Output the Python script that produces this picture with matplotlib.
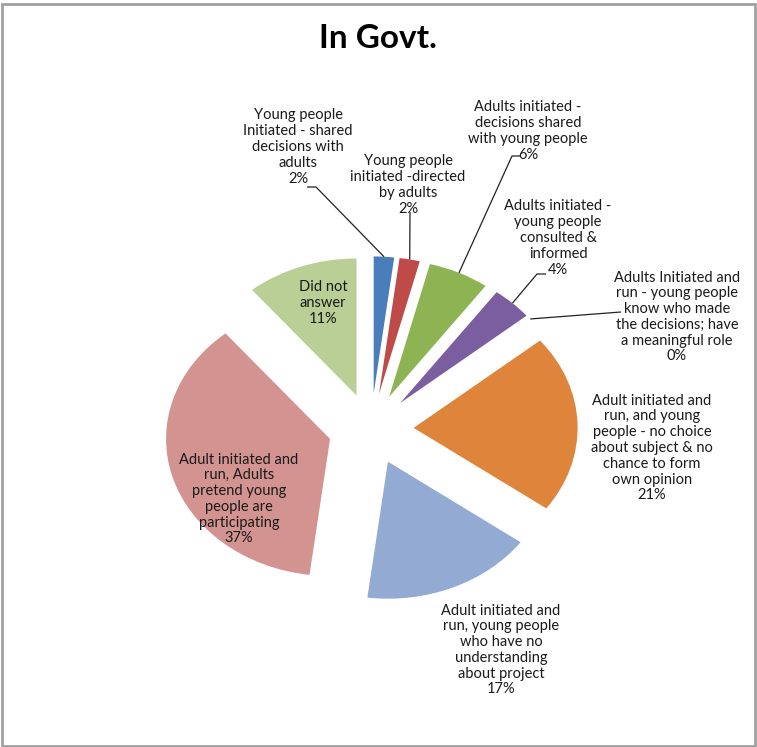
import numpy as np
import matplotlib
matplotlib.use("Agg")
import matplotlib.pyplot as plt
from matplotlib.patches import Rectangle

plt.rcParams['font.family'] = ['Lato', 'DejaVu Sans']

# Participation categories, clockwise from 12 o'clock
labels = [
    "Young people\nInitiated - shared\ndecisions with\nadults",
    "Young people\ninitiated -directed\nby adults",
    "Adults initiated -\ndecisions shared\nwith young people",
    "Adults initiated -\nyoung people\nconsulted &\ninformed",
    "Adults Initiated and\nrun - young people\nknow who made\nthe decisions; have\na meaningful role",
    "Adult initiated and\nrun, and young\npeople - no choice\nabout subject & no\nchance to form\nown opinion",
    "Adult initiated and\nrun, young people\nwho have no\nunderstanding\nabout project",
    "Adult initiated and\nrun, Adults\npretend young\npeople are\nparticipating",
    "Did not\nanswer",
]
percents = [2, 2, 6, 4, 0, 21, 17, 37, 11]
colors = ['#4A7EBB', '#BE4B48', '#8DB352', '#7B5E9F', '#4BACC6',
          '#DE853B', '#93AAD3', '#D39391', '#B9CF95']

W, H = 757, 747
CX, CY = 371, 429        # pie centre in pixels
SX, SY = 164, 137        # pixels per unit radius (chart is stretched wide)
EXPLODE = 0.26

fig = plt.figure(figsize=(W / 100, H / 100), dpi=100)
ax = fig.add_axes([0, 0, 1, 1])

wedges, _ = ax.pie(percents, colors=colors, startangle=90, counterclock=False,
                   explode=[EXPLODE] * len(percents), radius=1,
                   wedgeprops=dict(linewidth=0))
ax.set_aspect('auto')
ax.set_xlim(-CX / SX, (W - CX) / SX)
ax.set_ylim(-(H - CY) / SY, CY / SY)
ax.axis('off')


def px(x, y):
    # pixel position -> data coords
    return (x - CX) / SX, (CY - y) / SY


def outer_mid(i):
    w = wedges[i]
    a = np.deg2rad((w.theta1 + w.theta2) / 2)
    r = 1 + EXPLODE
    return r * np.cos(a), r * np.sin(a)


txt = dict(ha='center', va='center', fontsize=10.5, linespacing=1.16, color='#1a1a1a')

# label text centres (pixels)
label_pos = [(298, 147), (408, 185), (528, 131), (558, 238), (677, 317),
             (652, 448), (501, 650), (239, 499), (323, 303)]
for i, (lab, p) in enumerate(zip(labels, label_pos)):
    ax.text(*px(*p), f"{lab}\n{percents[i]}%", **txt)

# leader lines: (slice index, points from label side in pixels)
leaders = [
    (0, [(307, 187), (316, 187)]),
    (1, [(410, 212)]),
    (2, [(520, 156), (512, 156)]),
    (3, [(546, 274), (537, 274)]),
    (4, [(621, 312)]),
]
for i, pts in leaders:
    xs = [px(*q)[0] for q in pts] + [outer_mid(i)[0]]
    ys = [px(*q)[1] for q in pts] + [outer_mid(i)[1]]
    ax.plot(xs, ys, color='#222222', lw=0.9, solid_capstyle='butt')

fig.text(378 / W, 1 - 39 / H, "In Govt.", ha='center', va='center',
         fontsize=24, fontweight='bold', color='black')

# chart border
fig.patches.append(Rectangle((1.5 / W, 1 - 745.5 / H), 753 / W, 742 / H,
                             transform=fig.transFigure, fill=False,
                             edgecolor='#A0A0A0', lw=2))

fig.savefig('out.png', dpi=100)
